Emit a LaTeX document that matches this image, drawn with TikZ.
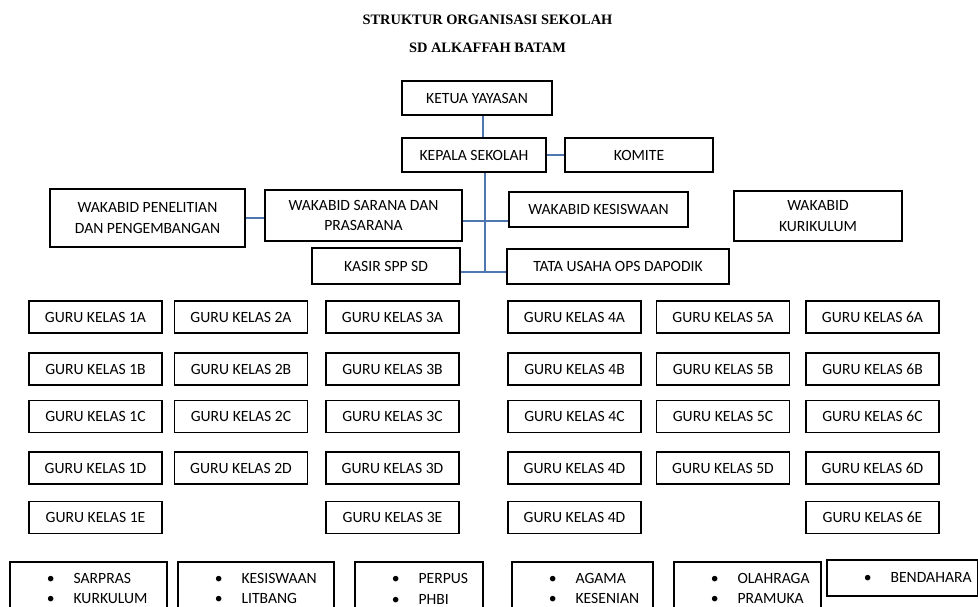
\documentclass[tikz,border=0pt]{standalone}
\usepackage{fontspec}
\setmainfont{Carlito}
\newfontfamily\judulfont{Liberation Serif}
\definecolor{garis}{RGB}{79,119,175}
\newcommand{\butir}[1]{\hspace*{0.74cm}\textbullet\hspace{0.38cm}#1}

\begin{document}
\begin{tikzpicture}[x=0.02cm, y=-0.02cm,
	kotak/.style={draw, line width=0.9pt, inner sep=0pt, align=center,
		font=\fontsize{8.9}{11.6}\selectfont},
	guru/.style={kotak, minimum width=2.66cm, minimum height=0.64cm},
	daftar/.style={kotak, anchor=north west, align=left, minimum height=1.08cm},
	judul/.style={font=\judulfont\bfseries\fontsize{8.2}{10}\selectfont},
	hubung/.style={draw=garis, line width=0.7pt}]
		\clip (0,0) rectangle (978,607);
		
		% Judul
		\node[judul] (judul1) at (487.5,20) {STRUKTUR ORGANISASI SEKOLAH};
		\node[judul] (judul2) at (487.5,48) {SD ALKAFFAH BATAM};
		
		% Pimpinan
		\node[kotak, minimum width=3cm, minimum height=0.68cm] (ketua) at (477,98) {KETUA YAYASAN};
		\node[kotak, minimum width=2.88cm, minimum height=0.68cm] (kepala) at (474,155) {KEPALA SEKOLAH};
		\node[kotak, minimum width=2.96cm, minimum height=0.68cm] (komite) at (639,155) {KOMITE};
		
		% Wakabid
		\node[kotak, minimum width=3.9cm, minimum height=1.16cm] (penelitian) at (147.5,218) {WAKABID PENELITIAN\\DAN PENGEMBANGAN};
		\node[kotak, minimum width=3.94cm, minimum height=1.02cm] (sarana) at (363.5,215.5) {WAKABID SARANA DAN\\PRASARANA};
		\node[kotak, minimum width=3.58cm, minimum height=0.7cm] (kesiswaan) at (598.5,209.5) {WAKABID KESISWAAN};
		\node[kotak, minimum width=3.36cm, minimum height=1cm] (kurikulum) at (818,216) {WAKABID\\KURIKULUM};
		\node[kotak, minimum width=2.96cm, minimum height=0.72cm] (kasir) at (386,266) {KASIR SPP SD};
		\node[kotak, minimum width=4.44cm, minimum height=0.7cm] (tatausaha) at (618,266.5) {TATA USAHA OPS DAPODIK};
		
		% Garis penghubung
		\coordinate (atas) at (483,0);
		\coordinate (tulang) at (485,273);
		\coordinate (cabang1) at (0,221);
		\coordinate (cabang2) at (0,272);
		\draw[hubung] (ketua.south -| atas) -- (kepala.north -| atas);
		\draw[hubung] (kepala.east) -- (komite.west);
		\draw[hubung] (kepala.south -| tulang) -- (tulang);
		\draw[hubung] (penelitian.east) -- (penelitian.east -| sarana.west);
		\draw[hubung] (sarana.east |- cabang1) -- (kesiswaan.west |- cabang1);
		\draw[hubung] (kasir.east |- cabang2) -- (tatausaha.west |- cabang2);
		
		% Guru kelas
		\foreach \k/\cx in {1/95.5, 2/241, 3/392.5, 4/574.5, 5/723, 6/872.5}
		\foreach \r/\cy in {A/317, B/369, C/416.5, D/468}
		\node[guru] (guru\k\r) at (\cx,\cy) {GURU KELAS \k\r};
		\node[guru] (guru1E) at (95.5,517.5) {GURU KELAS 1E};
		\node[guru] (guru3E) at (392.5,517.5) {GURU KELAS 3E};
		\node[guru] (guru4E) at (574.5,517.5) {GURU KELAS 4D};
		\node[guru] (guru6E) at (872.5,517.5) {GURU KELAS 6E};
		
		% Bidang tugas
		\foreach \i/\x/\w/\a/\b in {1/9/3.14/SARPRAS/KURKULUM, 2/177/3.12/KESISWAAN/LITBANG,
			3/354/2.56/PERPUS/PHBI, 4/511/2.82/AGAMA/KESENIAN, 5/673/2.94/OLAHRAGA/PRAMUKA}
		\node[daftar, text width=\w cm] (bidang\i) at (\x,561) {\butir{\a}\\\butir{\b}};
		\node[daftar, text width=3.02cm, minimum height=0.72cm] (bidang6) at (826,559) {\butir{BENDAHARA}};
	\end{tikzpicture}
\end{document}
